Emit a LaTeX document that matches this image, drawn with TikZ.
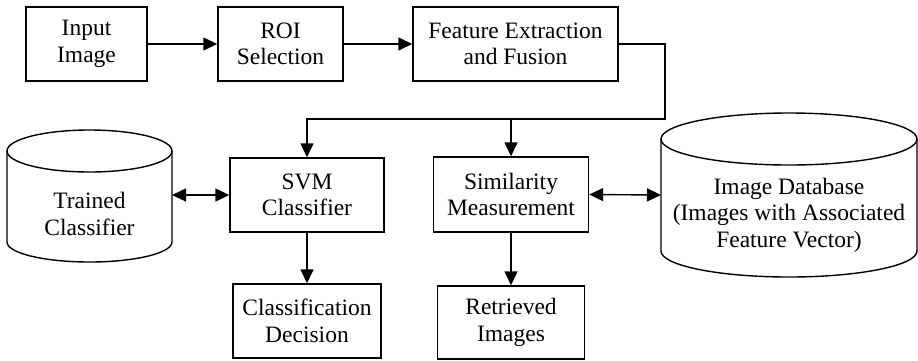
\documentclass[tikz,border=0pt]{standalone}
\usepackage{fontspec}
\setmainfont{Liberation Serif}
\usetikzlibrary{arrows.meta}
\begin{document}
\begin{tikzpicture}[x=1pt,y=-1pt,line width=1.4pt,
  box/.style={draw,rectangle,align=center,font=\fontsize{23.5}{26.5}\selectfont,inner sep=0pt},
  lbl/.style={align=center,font=\fontsize{23.5}{26.5}\selectfont,inner sep=0pt},
  arr/.style={-{Triangle[length=14pt,width=13pt]}},
  darr/.style={{Triangle[length=14pt,width=13pt]}-{Triangle[length=14pt,width=13pt]}}]
\useasboundingbox (0,0) rectangle (918,360);
% boxes
\node[box,minimum width=121pt,minimum height=74pt] (inp) at (86.5,44) {Input\\Image};
\node[box,minimum width=125pt,minimum height=74pt] (roi) at (280.5,44) {ROI\\Selection};
\node[box,minimum width=205pt,minimum height=74pt] (fe) at (515.5,44) {Feature Extraction\\and Fusion};
\node[box,minimum width=154pt,minimum height=74pt] (svm) at (307,195) {SVM\\Classifier};
\node[box,minimum width=148pt,minimum height=74pt] (cd) at (307,321) {Classification\\Decision};
\node[box,minimum width=155pt,minimum height=75pt] (sim) at (511,194.5) {Similarity\\Measurement};
\node[box,minimum width=147pt,minimum height=73pt] (ret) at (511,322.5) {Retrieved\\Images};
% cylinders
\draw (7,151) -- (7,242) arc[start angle=180,end angle=0,x radius=82.5,y radius=20] -- (172,151);
\draw (89.5,151) ellipse [x radius=82.5,y radius=21];
\node[lbl] (tc) at (89.5,214) {Trained\\Classifier};
\coordinate (tcE) at (172,195);
\draw (661,139) -- (661,251) arc[start angle=180,end angle=0,x radius=128,y radius=26] -- (917,139);
\draw (789,139) ellipse [x radius=128,y radius=26];
\node[lbl] (db) at (789,215) {Image Database\\(Images with Associated\\Feature Vector)};
\coordinate (dbW) at (661,195);
% connectors
\coordinate (c1) at (665,119);
\draw[arr] (inp) -- (roi);
\draw[arr] (roi) -- (fe);
\draw[arr] (fe.east) -| (c1) -| (svm.north);
\draw[arr] (sim.north |- c1) -- (sim.north);
\draw[arr] (svm) -- (cd);
\draw[arr] (sim) -- (ret);
\draw[darr] (tcE) -- (svm.west);
\draw[darr] (sim.east) -- (dbW);
\end{tikzpicture}
\end{document}
